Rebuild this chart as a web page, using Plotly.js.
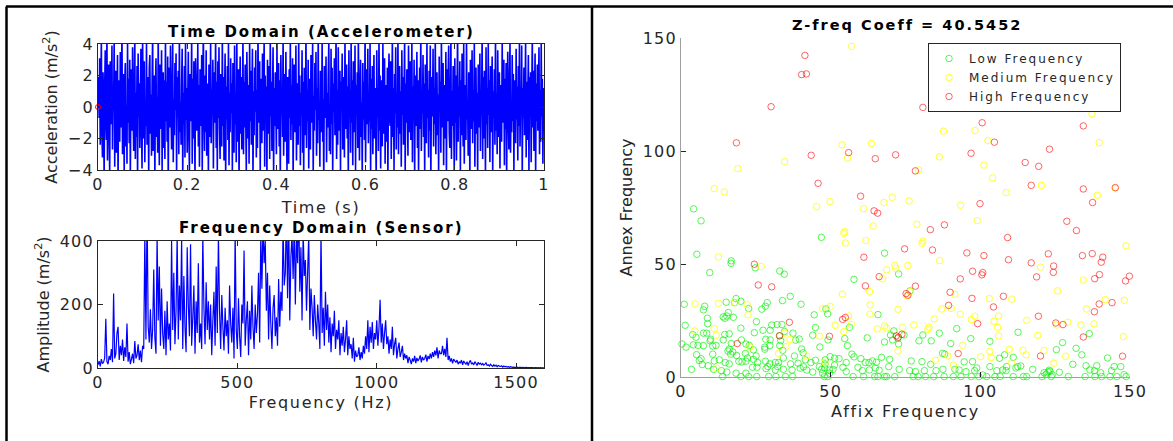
<!DOCTYPE html>
<html>
<head>
<meta charset="utf-8">
<script src="https://cdn.plot.ly/plotly-3.0.1.min.js"></script>
<style>
  html, body { margin: 0; padding: 0; background: #ffffff; }
  #chart { width: 1173px; height: 441px; }
  .xtitle, .x2title, .x3title { letter-spacing: 1.7px; }
  .annotation-text { letter-spacing: 2px; }
  .legendtext { letter-spacing: 2px; }
  .xtick text, .x2tick text, .x3tick text, .ytick text, .y2tick text, .y3tick text { letter-spacing: 1.2px; }
</style>
</head>
<body>
<div id="chart"></div>
<script>
// ---------------- data ----------------
// Time domain (accelerometer) samples, 0 .. 1 s
const timeStep = 0.00125;
const timeValues = [
  0.0, 1.9, -0.7, 3.1, -2.4, 0.8, 4.3, -1.6, -3.2, 2.2, 0.4, -4.5, 1.3, 3.6, -0.9, -2.1, 4.8, -3.4, 0.6, 2.7,
  -1.8, -4.2, 2.9, 0.3, -1.1, 3.9, -2.7, 1.4, -0.2, 4.4, -3.8, 1.0, 2.3, -2.9, -0.5, 3.3, -4.7, 1.7, 0.9, -2.2,
  3.5, -1.3, 0.7, 4.9, -3.0, -0.8, 2.1, -4.1, 1.6, 2.8, -2.5, 0.1, -3.6, 4.1, -1.0, 1.8, -2.3, 3.0, -4.4, 0.5,
  2.4, -1.5, 3.8, -0.4, -2.8, 1.2, 4.6, -3.3, 0.9, -1.9, 2.6, -4.9, 3.4, -0.6, 1.5, -2.6, 0.2, 3.7, -1.4, -3.9,
  4.2, 1.1, -2.0, 2.9, -3.5, 0.4, -1.2, 4.0, -2.4, 1.9, -0.3, -4.3, 2.5, 3.3, -1.7, 0.8, -3.1, 1.4, 4.7, -2.8,
  -0.7, 2.0, -4.6, 1.3, 3.1, -1.9, 0.6, -2.9, 4.5, -0.1, -3.7, 2.7, 1.0, -1.4, 3.6, -4.0, 0.3, 2.2, -2.6, 1.7,
  -3.3, 4.4, -0.9, 1.6, -2.2, 3.2, -4.8, 0.7, 2.5, -1.3, 3.9, -0.4, -2.7, 1.1, 4.1, -3.5, 0.5, -1.8, 2.8, -0.2,
  3.4, -4.2, 1.9, -0.6, 2.3, -3.0, 4.8, -1.6, 0.3, -2.4, 1.5, 3.7, -4.4, 0.9, -1.1, 2.6, -3.2, 4.3, -0.8, 1.2,
  -2.9, 0.6, 3.5, -1.7, -4.1, 2.1, 0.4, -0.9, 4.6, -3.6, 1.8, -2.0, 2.9, -0.3, -4.7, 3.1, 1.0, -1.5, 0.7, 4.0,
  -2.5, 1.4, -3.8, 2.4, 0.2, -1.2, 3.3, -4.3, 1.7, 4.9, -0.6, -2.8, 2.0, -1.6, 3.6, -3.1, 0.9, 1.5, -4.5, 2.7,
  0.8, -1.9, 4.2, -2.3, 1.1, -0.5, 3.0, -3.9, 2.2, -1.0, 0.5, 4.5, -2.6, 1.6, -4.0, 2.9, -0.7, 3.8, -1.4, -3.3,
  2.1, 0.3, -2.5, 4.7, -1.2, 1.9, -3.4, 0.6, 3.4, -4.6, 1.3, -0.8, 2.6, -2.1, 4.0, -3.7, 0.9, -1.6, 3.1, -0.4,
  1.5, -4.1, 2.8, -0.2, -2.9, 3.9, -1.1, 0.7, -3.5, 4.4, -2.2, 1.2, 2.4, -4.8, 0.4, 3.2, -1.7, 1.9, -2.7, 0.1,
  4.6, -3.0, 1.6, -1.3, 2.7, -0.6, -4.2, 3.5, 0.8, -2.0, 1.4, -3.6, 4.1, -0.9, 2.3, -2.4, 0.6, 3.7, -4.5, 1.0,
  -1.8, 2.5, -0.3, 3.6, -3.2, 1.1, -2.6, 4.8, -1.0, 0.4, 2.9, -4.0, 1.8, -0.5, -2.3, 3.4, -1.5, 0.7, 4.3, -3.8,
  2.0, -0.9, 1.3, -4.4, 3.0, -1.7, 0.2, 2.6, -3.3, 4.5, -0.6, 1.6, -2.8, 0.9, 3.8, -4.3, 1.2, -1.2, 2.2, -0.1,
  -3.0, 4.1, -1.4, 0.5, 2.8, -2.5, 1.7, -4.6, 3.3, -0.4, 1.0, -1.9, 4.7, -3.1, 0.3, 2.1, -2.2, 3.5, -0.8, -4.0,
  1.9, 0.6, -3.6, 2.4, -0.7, 4.2, -2.1, 1.4, -1.1, 3.1, -4.7, 0.8, 2.7, -1.6, -0.3, 3.9, -3.4, 1.5, 0.2, -2.4,
  4.4, -1.2, 2.0, -3.7, 0.9, -0.5, 3.6, -2.9, 1.6, -4.2, 2.5, 0.4, -1.8, 4.9, -2.6, 1.1, -0.9, 3.0, -3.9, 1.8,
  -0.4, -2.7, 3.3, -1.0, 1.4, 4.0, -4.4, 0.7, -1.5, 2.8, -0.2, 3.5, -3.1, 1.2, -2.3, 4.6, -0.8, 0.3, -3.8, 2.3,
  1.0, -1.6, 4.3, -2.2, 0.5, -4.9, 2.6, 1.8, -0.7, 3.2, -3.5, 0.9, -1.3, 2.0, 4.1, -2.8, 0.1, -3.0, 3.7, -1.1,
  2.5, -4.3, 1.5, -0.3, 3.1, -1.8, 0.6, 4.7, -3.3, 1.1, -2.4, 3.8, -0.6, -1.5, 2.3, -4.1, 1.6, 0.4, 3.4, -2.7,
  -0.9, 1.9, -3.2, 4.5, -1.4, 0.2, 2.7, -2.0, 1.3, -4.6, 3.6, -0.4, 0.8, -2.9, 4.2, -1.0, 1.7, -3.7, 2.9, 0.5,
  -1.6, 3.9, -4.0, 1.4, -0.5, 2.2, -2.6, 4.4, 0.7, -3.4, 1.0, 3.0, -1.9, 0.3, -4.4, 2.8, -0.8, 1.6, -2.1, 4.8,
  -3.5, 0.9, 2.4, -1.1, 3.7, -2.3, 0.4, -0.9, 4.1, -4.2, 1.8, -1.4, 2.6, -3.0, 0.6, 3.3, -2.0, 1.2, -0.3, -4.7,
  3.6, -0.6, 1.1, -2.8, 4.6, -1.5, 2.0, -3.9, 0.8, 1.7, -2.5, 4.0, -0.2, -1.7, 3.1, -3.6, 1.4, 0.6, -2.2, 2.5,
  -4.5, 1.6, 3.4, -0.7, -1.2, 2.9, -3.3, 0.5, 4.3, -1.9, 1.2, -4.0, 2.1, -0.4, 3.8, -2.7, 0.9, -1.3, 4.5, -3.0,
  0.2, 2.6, -1.7, 1.0, -3.8, 3.6, -0.5, 1.9, -2.4, 0.7, 4.4, -4.3, 1.5, -1.0, 2.4, -0.1, -3.1, 3.9, -1.6, 0.8,
  2.9, -2.1, 0.4, 4.2, -3.5, 1.3, -0.8, 3.0, -4.6, 2.0, -1.2, 0.6, 3.5, -2.6, 1.7, -4.1, 0.3, 2.5, -1.4, 4.9,
  -2.8, 0.7, -0.4, 3.3, -1.9, 1.5, -4.4, 2.7, 0.9, -2.3, 4.1, -0.7, 1.1, -3.2, 2.3, -1.5, 3.9, -4.8, 0.5, 1.9,
  -0.6, 3.7, -2.5, 1.2, -1.1, 4.5, -3.0, 0.3, 2.2, -1.8, 0.8, -4.2, 3.2, -0.3, 1.6, -2.9, 4.6, -1.3, -0.2, 2.8,
  -3.7, 1.4, 0.1, -2.0, 3.5, -4.5, 2.4, -0.9, 1.8, 3.9, -1.6, -2.6, 0.7, 4.3, -3.3, 1.0, -1.2, 2.6, -0.5, -4.1,
  3.1, -1.0, 2.0, -3.4, 0.6, 4.8, -2.2, 1.3, -0.6, 2.9, -4.0, 1.7, -1.8, 3.4, -0.2, -2.5, 4.0, -3.6, 0.9, 1.4,
  -2.1, 4.4, -0.8, 0.4, -3.1, 2.2, 1.5, -4.7, 3.0, -1.4, 0.2, 3.6, -2.3, 1.1, -0.9, 4.2, -3.8, 0.6, 2.5, -1.7,
  0.9, -4.2, 2.7, 1.6, -1.3, 3.4, -2.8, 0.5, -0.4, 4.6, -3.3, 1.9, -2.0, 2.3, 0.7, -4.4, 3.8, -1.1, 1.2, -2.6,
  4.0, -0.5, 1.7, -3.5, 2.6, -1.6, 0.3, 3.2, -4.3, 1.0, -0.7, 2.4, -2.4, 4.7, -1.5, 0.8, -3.0, 3.6, -0.1, -1.9,
  2.2, -3.9, 0.6, 1.4, -2.2, 4.3, -1.0, 0.2, 3.0, -3.7, 1.8, -1.4, 2.8, -4.6, 1.1, 3.5, -0.6, -2.7, 1.5, 4.1,
  -2.9, 0.4, -1.6, 3.3, -0.9, 2.1, -4.1, 1.7, 0.5, -2.3, 3.7, -0.8, 1.3, -3.4, 2.6, -1.2, 4.4, -2.5, 0.8, -0.3,
  3.9, -4.5, 1.2, -0.7, 2.5, -1.8, 0.4, 4.2, -3.2, 1.6, -2.1, 0.9, 3.3, -4.0, 1.9, -0.5, 2.2, -3.5, 0.6, 4.6,
  -1.3, 2.3, -2.8, 0.8, 3.4, -4.4, 1.5, -0.9, 2.7, -1.5, 0.3, 3.8, -3.0, 1.1, -2.2, 4.0, -0.6, 1.8, -3.6, 0.4,
  1.2
];

// Frequency domain (sensor) amplitude spectrum, 0 .. 1600 Hz
const freqStep = 4;
const freqAmplitude = [
  10, 22, 5, 28, 14, 18, 32, 155, 20, 12, 38, 25, 60, 18, 235, 30, 45, 110, 130, 25, 70, 40, 90, 22, 65,
  35, 140, 20, 50, 12, 28, 45, 15, 85, 30, 40, 75, 25, 55, 18, 70, 60, 420, 90, 510, 130, 80, 185, 60, 120,
  310, 95, 45, 420, 150, 320, 70, 250, 110, 60, 180, 40, 210, 90, 140, 55, 400, 120, 300, 75, 180, 420, 90, 260, 150,
  410, 60, 290, 130, 50, 380, 200, 100, 390, 70, 160, 260, 45, 210, 110, 330, 80, 140, 60, 420, 190, 75, 270, 120, 210,
  90, 200, 40, 150, 240, 70, 320, 110, 420, 180, 60, 230, 130, 55, 190, 100, 150, 45, 260, 140, 80, 190, 30, 430, 120,
  60, 220, 100, 35, 200, 140, 370, 70, 150, 210, 40, 180, 90, 260, 130, 60, 200, 110, 170, 300, 80, 420, 250, 460, 330,
  400, 180, 300, 90, 260, 140, 60, 190, 230, 100, 160, 70, 280, 130, 240, 180, 450, 260, 300, 510, 220, 480, 150, 350, 420,
  280, 460, 200, 420, 330, 520, 240, 380, 150, 430, 290, 340, 180, 300, 420, 120, 250, 190, 100, 230, 150, 90, 200, 140, 60,
  430, 110, 190, 70, 240, 120, 200, 80, 160, 50, 140, 100, 180, 60, 120, 90, 150, 40, 110, 70, 130, 50, 90, 150, 40,
  100, 60, 75, 30, 95, 20, 55, 35, 40, 65, 25, 50, 30, 70, 45, 100, 60, 150, 50, 130, 80, 145, 60, 110, 90,
  150, 70, 125, 215, 80, 140, 60, 110, 150, 75, 100, 45, 90, 60, 130, 40, 75, 95, 30, 60, 80, 35, 50, 70, 25,
  45, 30, 40, 15, 35, 25, 12, 30, 20, 38, 15, 32, 22, 28, 40, 18, 35, 25, 30, 42, 20, 38, 28, 45, 30,
  50, 35, 55, 40, 65, 30, 55, 45, 45, 70, 40, 60, 35, 95, 25, 38, 20, 30, 15, 28, 22, 18, 25, 12, 20,
  15, 25, 10, 22, 16, 12, 20, 8, 18, 24, 12, 16, 10, 20, 14, 8, 18, 12, 15, 10, 14, 9, 12, 16, 8,
  10, 6, 12, 8, 5, 10, 6, 9, 4, 8, 6, 5, 7, 3, 6, 4, 5, 3, 4, 2, 4, 3, 2, 3, 2,
  2, 3, 1, 2, 2, 1, 2, 1, 1, 2, 1, 1, 1, 1, 1, 1, 0.5, 1, 1, 0.5, 1, 0.5, 1, 0.5, 0.5, 0.5
];

// Scatter: [Affix Frequency, Annex Frequency]
const lowPoints = [
  [4.2,74.4],[6.7,69.1],[46.9,61.8],[5.3,54.3],[16.8,51.4],[16.7,50.3],[24.8,48.3],[33.0,46.9],[34.5,45.5],[9.6,46.2],
  [36.5,35.7],[18.4,34.7],[20.0,33.5],[15.1,33.1],[1.1,32.2],[7.9,31.3],[7.5,29.7],[17.9,32.9],[22.6,30.3],[28.8,32.9],
  [28.2,31.3],[27.0,30.0],[33.9,33.8],[40.1,32.2],[48.4,30.1],[49.0,27.9],[44.5,27.5],[15.8,28.5],[15.3,27.0],[14.7,26.0],
  [17.5,26.4],[14.1,26.6],[8.8,26.0],[8.9,23.6],[25.2,24.5],[1.4,22.9],[44.9,21.9],[20.0,21.6],[30.3,23.0],[32.1,23.2],
  [33.7,23.2],[27.4,20.7],[29.8,20.7],[34.6,20.1],[37.4,19.4],[24.5,19.6],[3.9,18.8],[7.5,19.4],[8.6,19.4],[14.6,18.8],
  [16.1,19.1],[33.0,18.3],[44.0,18.5],[5.0,17.6],[9.9,16.7],[9.7,16.0],[14.1,16.4],[20.2,16.4],[28.3,16.7],[29.8,16.4],
  [33.3,16.1],[38.3,16.3],[39.5,16.8],[49.1,16.4],[0.3,14.6],[1.7,13.2],[4.1,14.2],[5.7,14.0],[7.5,13.9],[10.6,13.7],
  [11.7,14.0],[16.8,14.8],[16.1,12.3],[21.7,14.6],[22.8,14.0],[24.2,12.0],[28.0,13.2],[28.0,12.3],[29.7,13.9],[33.0,13.9],
  [34.0,11.8],[40.3,12.4],[46.4,13.3],[5.2,9.9],[6.7,8.1],[6.1,7.3],[10.6,10.1],[15.7,11.5],[16.6,10.1],[17.3,11.1],
  [18.6,9.5],[21.5,10.4],[22.2,8.4],[25.1,9.3],[28.2,7.0],[34.2,8.4],[37.9,9.3],[40.8,10.7],[41.5,7.6],[44.9,7.4],
  [48.2,7.6],[49.8,9.0],[48.1,5.8],[7.1,5.5],[9.1,5.0],[11.1,7.1],[12.8,7.6],[14.8,6.4],[16.1,5.8],[19.3,7.0],
  [20.4,6.7],[21.7,7.0],[24.2,7.8],[25.6,6.4],[25.4,4.3],[29.0,4.6],[29.7,5.8],[31.5,6.4],[32.3,4.6],[32.6,6.4],
  [36.6,5.8],[39.1,6.1],[40.9,4.5],[43.4,6.4],[46.2,4.6],[47.0,3.4],[48.0,4.0],[49.6,3.1],[3.5,3.4],[10.9,3.4],
  [13.5,2.8],[15.3,2.2],[18.4,1.7],[21.7,1.7],[23.9,4.3],[28.4,3.7],[31.5,3.1],[34.2,3.4],[37.1,3.1],[39.8,3.9],
  [42.0,3.1],[44.0,2.2],[47.3,1.7],[49.6,1.7],[13.9,0.2],[20.0,0.2],[22.6,0.2],[25.3,0.2],[29.3,0.2],[31.7,0.2],
  [34.9,0.2],[37.3,0.2],[47.9,0.2],[49.0,0.2],
  [68.0,54.8],[72.7,45.6],[57.8,43.2],[76.5,38.1],[65.8,27.6],[56.3,22.0],[92.1,21.4],[71.1,20.4],[70.0,18.6],[70.7,16.4],
  [72.4,17.1],[74.5,18.6],[80.8,18.6],[79.5,16.0],[83.6,16.0],[86.3,19.4],[96.8,17.0],[54.7,17.0],[55.6,13.9],[62.2,17.3],
  [68.0,15.5],[72.7,14.6],[90.1,14.8],[87.4,10.5],[51.3,8.3],[52.8,8.1],[55.2,6.4],[57.1,10.1],[57.8,8.9],[60.1,8.1],
  [61.6,6.4],[62.8,6.4],[64.0,7.1],[65.3,6.5],[67.0,8.7],[69.7,7.8],[76.9,7.1],[80.5,6.8],[83.4,5.6],[88.1,10.1],
  [94.6,6.7],[97.4,6.8],[51.3,5.3],[54.1,4.3],[59.1,4.3],[60.6,2.8],[62.9,3.1],[64.9,4.0],[66.2,3.0],[69.4,4.6],
  [72.9,3.4],[76.4,2.8],[78.3,2.4],[81.3,2.8],[85.2,2.8],[87.5,3.4],[91.5,3.4],[92.9,3.1],[95.2,2.4],[98.1,2.8],
  [98.8,4.0],[50.8,3.4],[55.2,2.4],[57.5,0.2],[61.0,0.2],[64.7,0.2],[65.8,0.2],[68.0,0.2],[68.7,0.2],[71.4,0.2],
  [77.6,0.2],[79.2,0.2],[81.7,0.2],[84.4,0.2],[87.9,0.2],[91.0,0.2],[93.5,0.2],[97.0,0.2],[99.5,0.2],[100.8,0.9],
  [112.6,19.8],[136.4,19.2],[127.5,15.2],[103.2,15.8],[125.4,12.1],[132.0,12.7],[133.9,9.8],[142.5,8.4],[108.1,9.8],[106.4,8.3],
  [111.0,8.7],[130.9,5.6],[135.3,5.0],[138.9,5.0],[146.9,4.6],[103.2,4.6],[108.8,4.6],[112.5,4.6],[113.5,4.9],[117.5,3.4],
  [107.5,3.1],[105.5,2.8],[108.6,2.8],[111.9,4.0],[121.3,1.9],[122.6,2.2],[123.3,2.5],[126.4,2.1],[136.6,3.1],[138.1,2.8],
  [140.2,1.9],[143.8,2.8],[144.7,4.6],[148.0,1.0],[102.1,0.2],[104.9,0.2],[106.6,0.2],[111.0,0.2],[114.4,0.2],[115.5,0.2],
  [120.6,0.2],[123.7,0.2],[129.4,0.2],[135.0,0.2],[138.3,0.2],[140.5,0.2],[143.3,0.2],[145.6,0.2],[148.7,0.2],[122.0,1.2],
  [124.0,1.0],[123.0,3.0]
];
const mediumPoints = [
  [57.0,146.3],[127.1,123.1],[137.3,116.4],[87.7,108.8],[98.2,109.1],[102.5,104.6],
  [34.6,95.3],[19.0,92.2],[11.1,83.4],[14.5,81.9],[49.8,77.6],[45.3,75.4],[12.5,53.1],[26.8,48.9],[12.5,32.6],[4.7,32.3],
  [22.1,32.0],[18.0,32.9],[47.3,30.4],[49.9,31.2],[22.4,27.5],[11.1,21.4],[4.6,20.4],[34.6,19.4],[11.8,18.5],[36.4,16.6],
  [46.3,18.0],[23.0,13.2],[35.1,13.5],[32.6,10.4],[42.0,9.3],[48.1,6.4],[11.9,3.9],
  [53.8,102.7],[63.6,103.4],[55.6,96.9],[86.3,97.4],[101.2,93.8],[79.4,91.6],[67.8,77.2],[70.6,79.5],[76.2,77.9],[93.4,76.0],
  [61.0,74.5],[99.0,69.2],[64.2,66.8],[78.8,67.6],[54.7,64.3],[54.4,63.6],[54.9,59.3],[61.7,60.4],[80.8,60.1],[80.5,59.2],
  [86.4,51.5],[71.4,49.4],[71.7,48.1],[68.7,47.4],[75.8,49.3],[67.3,43.5],[63.0,37.9],[76.6,37.8],[75.4,35.9],[91.5,36.6],
  [53.9,36.7],[90.3,30.4],[63.2,31.9],[72.5,30.0],[87.1,30.1],[63.1,27.8],[93.3,27.8],[98.1,26.9],[97.0,25.4],[56.0,27.0],
  [84.6,25.7],[51.5,22.9],[56.9,23.3],[68.0,22.6],[68.7,21.7],[65.6,21.3],[74.0,21.9],[77.8,23.0],[82.8,22.0],[82.5,21.1],
  [54.4,20.1],[72.5,11.5],[94.1,14.0],[100.1,9.0],[89.1,9.3],[85.0,7.4],[91.0,5.3],
  [139.7,103.7],[104.1,88.1],[120.4,84.8],[139.1,80.4],[145.0,83.6],[108.6,81.6],[148.7,58.0],[120.1,48.6],[134.4,42.9],[125.8,38.1],
  [110.5,34.5],[103.0,34.7],[141.7,34.2],[148.1,33.9],[135.5,30.1],[106.1,27.0],[104.6,24.7],[105.8,22.0],[106.1,18.2],[115.5,25.1],
  [129.2,24.2],[125.5,23.0],[133.6,23.0],[138.0,23.5],[119.2,18.5],[147.8,17.9],[109.7,12.3],[114.2,11.8],[115.3,9.8],[121.3,11.7],
  [103.2,11.4],[103.6,8.6],[124.6,6.1],[128.5,9.2],[110.4,6.4]
];
const highPoints = [
  [41.4,142.3],[40.3,133.8],[41.9,134.1],[30.1,119.6],[80.8,119.3],[122.9,119.6],[134.4,111.1],[100.6,112.5],
  [18.5,103.6],[43.5,98.1],[45.8,85.7],[24.5,49.9],[25.8,40.7],[30.3,39.9],[36.2,24.2],[49.6,18.0],[18.8,14.8],[32.9,18.2],
  [56.0,99.3],[64.9,96.6],[71.7,98.3],[96.9,99.0],[78.3,91.2],[60.0,80.0],[99.9,76.7],[64.5,73.5],[65.7,72.5],[83.3,65.2],
  [88.0,67.3],[74.7,56.7],[84.0,56.2],[95.5,54.9],[101.2,53.7],[61.1,53.0],[66.2,44.4],[93.3,43.4],[97.4,46.8],[100.5,45.2],
  [100.8,46.2],[61.6,40.3],[78.3,40.2],[75.2,36.9],[75.8,36.2],[89.9,37.5],[97.2,34.8],[89.4,31.7],[54.0,25.5],[54.9,26.3],
  [99.1,23.6],[71.9,18.2],[73.8,18.9],[72.6,17.6],[92.6,10.4],
  [104.7,103.9],[123.1,100.8],[115.0,94.9],[119.5,93.2],[117.0,84.8],[134.4,83.2],[145.1,83.8],[137.5,77.2],[128.9,68.9],[132.1,64.8],
  [109.1,61.7],[122.7,54.5],[134.1,53.7],[137.4,54.6],[140.9,53.0],[140.4,50.8],[117.0,50.5],[109.4,51.9],[124.5,49.1],[124.4,46.3],
  [118.8,44.3],[139.8,45.3],[138.2,43.5],[149.8,44.6],[148.5,42.5],[107.7,35.7],[104.4,31.0],[139.7,32.3],[144.0,32.9],[138.1,28.9],
  [119.4,26.9],[125.2,23.9],[127.6,23.2],[134.4,17.7],[120.1,9.3],[147.5,9.2]
];

const seriesNames = ['Low Frequency', 'Medium Frequency', 'High Frequency'];
const zCoeff = '40.5452';
const timeTicks = [0, 0.2, 0.4, 0.6, 0.8, 1];
const timeTickText = ['0', '0.2', '0.4', '0.6', '0.8', '1'];
const accelTicks = [-4, -2, 0, 2, 4];
const freqTicks = [0, 500, 1000, 1500];
const ampTicks = [0, 200, 400];
const scatterTicks = [0, 50, 100, 150];

// ---------------- chart ----------------
const W = 1173, H = 441;
const px = v => v / W;
const py = v => 1 - v / H;

const FONT = 'DejaVu Sans, Liberation Sans, Arial, sans-serif';
const TXT = '#262626';

const traces = [
  {
    type: 'scatter', mode: 'lines', x0: 0, dx: timeStep, y: timeValues,
    xaxis: 'x', yaxis: 'y', line: { color: '#0000ff', width: 1.6, simplify: false },
    showlegend: false, hoverinfo: 'skip'
  },
  {
    type: 'scatter', mode: 'markers', x: [0], y: [0], xaxis: 'x', yaxis: 'y',
    marker: { symbol: 'circle-open', size: 5, color: '#ff0000', line: { width: 1 } },
    showlegend: false, cliponaxis: false
  },
  {
    type: 'scatter', mode: 'lines', x0: 0, dx: freqStep, y: freqAmplitude,
    xaxis: 'x2', yaxis: 'y2', line: { color: '#0000ff', width: 1.2, simplify: false },
    showlegend: false, hoverinfo: 'skip'
  }
];

const sets = [
  [lowPoints, 'rgba(0,240,0,0.65)'],
  [mediumPoints, 'rgba(255,255,0,0.8)'],
  [highPoints, 'rgba(255,0,0,0.6)']
];
sets.forEach(([pts, col], i) => {
  traces.push({
    type: 'scatter', mode: 'markers', name: seriesNames[i],
    x: pts.map(p => p[0]), y: pts.map(p => p[1]),
    xaxis: 'x3', yaxis: 'y3', cliponaxis: false,
    marker: { symbol: 'circle-open', size: 6.5, color: col, line: { width: 1 } }
  });
});

const boxAxis = {
  showline: true, linecolor: TXT, linewidth: 1, mirror: 'ticks',
  ticks: 'inside', ticklen: 5, tickcolor: TXT, tickwidth: 1,
  showgrid: false, zeroline: false, fixedrange: true,
  tickfont: { family: FONT, size: 16, color: TXT }
};
const openAxis = {
  showline: true, linecolor: '#a0a0a0', linewidth: 1, mirror: false,
  ticks: 'inside', ticklen: 5, tickcolor: TXT, tickwidth: 1,
  showgrid: false, zeroline: false, fixedrange: true,
  tickfont: { family: FONT, size: 16, color: TXT }
};
const titleFont = { family: FONT, size: 16, color: TXT };

const layout = {
  width: W, height: H,
  margin: { l: 0, r: 0, t: 0, b: 0 },
  paper_bgcolor: '#ffffff', plot_bgcolor: '#ffffff',
  font: { family: FONT, size: 15, color: TXT },
  showlegend: true,
  xaxis: Object.assign({}, boxAxis, {
    domain: [px(98), px(544)], anchor: 'y', range: [0, 1],
    tickvals: timeTicks, ticktext: timeTickText,
    title: { text: 'Time (s)', font: titleFont, standoff: 8 }
  }),
  yaxis: Object.assign({}, boxAxis, {
    domain: [py(170), py(44)], anchor: 'x', range: [-4, 4], tickvals: accelTicks,
    title: { text: 'Acceleration (m/s<sup>2</sup>)', font: titleFont, standoff: 6 }
  }),
  xaxis2: Object.assign({}, boxAxis, {
    domain: [px(98), px(544)], anchor: 'y2', range: [0, 1600], tickvals: freqTicks,
    title: { text: 'Frequency (Hz)', font: titleFont, standoff: 5 }
  }),
  yaxis2: Object.assign({}, boxAxis, {
    domain: [py(368), py(241)], anchor: 'x2', range: [0, 400], tickvals: ampTicks,
    title: { text: 'Amplitude (m/s<sup>2</sup>)', font: titleFont, standoff: 6 }
  }),
  xaxis3: Object.assign({}, openAxis, {
    domain: [px(681), px(1130)], anchor: 'y3', range: [0, 150], tickvals: scatterTicks,
    title: { text: 'Affix Frequency', font: titleFont, standoff: 5 }
  }),
  yaxis3: Object.assign({}, openAxis, {
    domain: [py(377), py(38)], anchor: 'x3', range: [0, 150], tickvals: scatterTicks,
    title: { text: 'Annex Frequency', font: titleFont, standoff: 6 }
  }),
  legend: {
    x: px(928), y: py(43), xanchor: 'left', yanchor: 'top',
    bgcolor: '#ffffff', bordercolor: TXT, borderwidth: 1,
    font: { family: FONT, size: 12, color: TXT },
    tracegroupgap: 0, itemwidth: 30
  },
  annotations: [
    { text: '<b>Time Domain (Accelerometer)</b>', xref: 'paper', yref: 'paper', x: px(321), y: py(32),
      xanchor: 'center', yanchor: 'middle', showarrow: false, font: { family: FONT, size: 15, color: '#000' } },
    { text: '<b>Frequency Domain (Sensor)</b>', xref: 'paper', yref: 'paper', x: px(321), y: py(228),
      xanchor: 'center', yanchor: 'middle', showarrow: false, font: { family: FONT, size: 15, color: '#000' } },
    { text: '<b>Z-freq Coeff = ' + zCoeff + '</b>', xref: 'paper', yref: 'paper', x: px(907), y: py(25),
      xanchor: 'center', yanchor: 'middle', showarrow: false, font: { family: FONT, size: 14.5, color: '#000' } }
  ],
  shapes: [
    { type: 'line', xref: 'paper', yref: 'paper', x0: px(6), x1: 1, y0: py(6.5), y1: py(6.5), line: { color: '#000', width: 2.5 } },
    { type: 'line', xref: 'paper', yref: 'paper', x0: px(6.5), x1: px(6.5), y0: 0, y1: py(6.5), line: { color: '#000', width: 2.5 } },
    { type: 'line', xref: 'paper', yref: 'paper', x0: px(592), x1: px(592), y0: 0, y1: py(6.5), line: { color: '#000', width: 2.5 } }
  ]
};

Plotly.newPlot('chart', traces, layout, { staticPlot: true, displayModeBar: false });
</script>
</body>
</html>
